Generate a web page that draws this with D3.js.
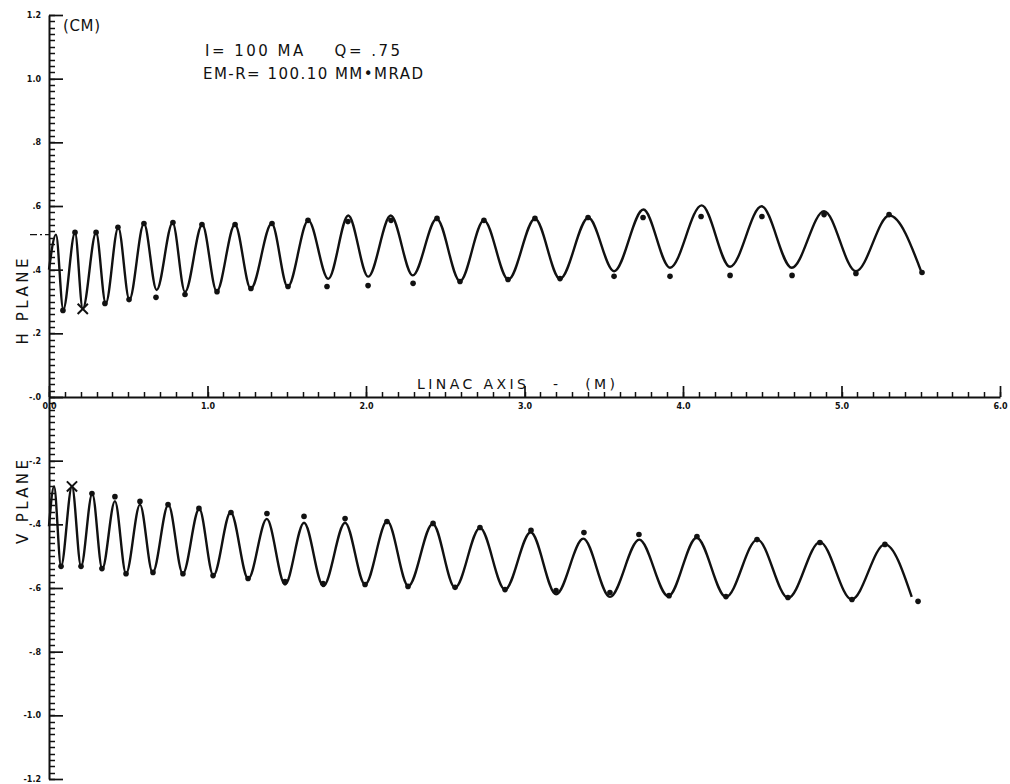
<!DOCTYPE html>
<html>
<head>
<meta charset="utf-8">
<script src="https://cdn.jsdelivr.net/npm/d3@7"></script>
<style>
  body { margin: 0; background: #fff; }
  svg  { display: block; }
  .txt { font-family: "DejaVu Sans", sans-serif; fill: #111; white-space: pre; }
  .tick text { font-family: "DejaVu Sans", sans-serif; font-size: 8px; font-weight: bold; fill: #111; }
</style>
</head>
<body>
<svg id="chart" width="1010" height="784"></svg>
<script>
// ------------------------------------------------------------------
// data (linac axis in m, envelope in cm)
// ------------------------------------------------------------------
const hCurve = [
  [0.00, 0.40], [0.044, 0.51], [0.090, 0.275], [0.164, 0.516], [0.213, 0.277],
  [0.297, 0.516], [0.358, 0.294], [0.437, 0.532], [0.507, 0.306], [0.599, 0.545],
  [0.679, 0.336], [0.780, 0.547], [0.858, 0.330], [0.967, 0.542], [1.058, 0.332],
  [1.173, 0.542], [1.273, 0.340], [1.405, 0.545], [1.506, 0.346], [1.636, 0.555],
  [1.762, 0.371], [1.888, 0.570], [2.014, 0.378], [2.156, 0.570], [2.295, 0.382],
  [2.446, 0.560], [2.593, 0.364], [2.744, 0.555], [2.898, 0.369], [3.066, 0.560],
  [3.224, 0.371], [3.403, 0.563], [3.565, 0.395], [3.750, 0.589], [3.918, 0.406],
  [4.118, 0.602], [4.297, 0.409], [4.496, 0.599], [4.686, 0.406], [4.890, 0.584],
  [5.091, 0.395], [5.302, 0.570], [5.506, 0.390]
];

const hDots = [
  [0.164, 0.517], [0.297, 0.517], [0.435, 0.533], [0.599, 0.545], [0.782, 0.548],
  [0.965, 0.542], [1.174, 0.542], [1.407, 0.545], [1.634, 0.555], [1.886, 0.551],
  [2.158, 0.555], [2.448, 0.561], [2.744, 0.555], [3.066, 0.561], [3.401, 0.564],
  [3.748, 0.564], [4.114, 0.567], [4.498, 0.567], [4.890, 0.573], [5.300, 0.573],
  [0.088, 0.272], [0.353, 0.294], [0.505, 0.306], [0.675, 0.313], [0.858, 0.322],
  [1.060, 0.331], [1.274, 0.341], [1.508, 0.347], [1.754, 0.347], [2.013, 0.350],
  [2.297, 0.357], [2.593, 0.363], [2.896, 0.369], [3.224, 0.372], [3.565, 0.379],
  [3.918, 0.379], [4.297, 0.382], [4.688, 0.382], [5.091, 0.388], [5.508, 0.391]
];

const vCurve = [
  [0.00, -0.406], [0.032, -0.281], [0.076, -0.532], [0.145, -0.281], [0.202, -0.532],
  [0.273, -0.303], [0.336, -0.540], [0.416, -0.327], [0.486, -0.555], [0.574, -0.338],
  [0.654, -0.552], [0.753, -0.338], [0.844, -0.555], [0.948, -0.351], [1.037, -0.561],
  [1.146, -0.362], [1.257, -0.571], [1.374, -0.383], [1.489, -0.589], [1.609, -0.395],
  [1.731, -0.594], [1.868, -0.395], [1.994, -0.589], [2.134, -0.390], [2.267, -0.594],
  [2.421, -0.398], [2.562, -0.599], [2.719, -0.411], [2.877, -0.605], [3.039, -0.425],
  [3.199, -0.620], [3.371, -0.445], [3.539, -0.628], [3.724, -0.448], [3.907, -0.626],
  [4.086, -0.442], [4.271, -0.628], [4.469, -0.448], [4.664, -0.631], [4.864, -0.456],
  [5.064, -0.636], [5.274, -0.463], [5.443, -0.628]
];

const vDots = [
  [0.271, -0.303], [0.416, -0.313], [0.574, -0.328], [0.751, -0.338], [0.946, -0.350],
  [1.148, -0.363], [1.375, -0.366], [1.609, -0.375], [1.868, -0.382], [2.132, -0.391],
  [2.423, -0.397], [2.719, -0.410], [3.041, -0.419], [3.375, -0.426], [3.722, -0.432],
  [4.088, -0.438], [4.467, -0.448], [4.864, -0.457], [5.274, -0.463],
  [0.076, -0.532], [0.202, -0.532], [0.334, -0.539], [0.486, -0.555], [0.656, -0.551],
  [0.845, -0.555], [1.035, -0.561], [1.256, -0.570], [1.489, -0.580], [1.729, -0.586],
  [1.994, -0.589], [2.265, -0.595], [2.562, -0.598], [2.877, -0.605], [3.199, -0.608],
  [3.539, -0.614], [3.912, -0.624], [4.271, -0.627], [4.662, -0.630], [5.066, -0.636],
  [5.483, -0.642]
];

// start points marked with an X
const crossMarks = [[0.213, 0.277], [0.145, -0.281]];

const yTicks      = [-1.2, -1.0, -0.8, -0.6, -0.4, -0.2, 0, 0.2, 0.4, 0.6, 0.8, 1.0, 1.2];
const yTickLabels = ["-1.2", "-1.0", "-.8", "-.6", "-.4", "-.2", "-.0", ".2", ".4", ".6", ".8", "1.0", "1.2"];
const xTicks      = [0, 1, 2, 3, 4, 5, 6];
const xTickLabels = ["0.0", "1.0", "2.0", "3.0", "4.0", "5.0", "6.0"];

// ------------------------------------------------------------------
// 1. scales
// ------------------------------------------------------------------
const svg = d3.select("#chart");
svg.append("rect").attr("width", 1010).attr("height", 784).attr("fill", "#fff");

const x = d3.scaleLinear().domain([0, 6]).range([49, 1000]);
const y = d3.scaleLinear().domain([-1.2, 1.2]).range([779, 15]);

// ------------------------------------------------------------------
// 2. axes (ticks point inward, labels outside)
// ------------------------------------------------------------------
const ink = g => g.selectAll("line, path").attr("stroke", "#111");

// minor ticks: every .02 cm on y, every .1 m on x
const yMinor = d3.range(-60, 61).map(i => i * 0.02);
const xMinor = d3.range(0, 61).map(i => i * 0.1);

svg.append("g")
   .selectAll("line")
   .data(yMinor)
   .join("line")
   .attr("x1", x(0)).attr("x2", x(0) + 6)
   .attr("y1", d => Math.round(y(d)) + 0.5).attr("y2", d => Math.round(y(d)) + 0.5)
   .attr("stroke", "#111").attr("stroke-width", 1.5);

svg.append("g")
   .selectAll("line")
   .data(xMinor)
   .join("line")
   .attr("x1", d => Math.round(x(d)) + 0.5).attr("x2", d => Math.round(x(d)) + 0.5)
   .attr("y1", y(0)).attr("y2", y(0) - 5)
   .attr("stroke", "#111").attr("stroke-width", 1.5);

svg.append("g")
   .attr("transform", `translate(${x(0)},0)`)
   .call(d3.axisLeft(y).tickValues(yTicks).tickSizeInner(-14).tickSizeOuter(0).tickPadding(8)
           .tickFormat((d, i) => yTickLabels[i]))
   .call(ink)
   .call(g => g.selectAll(".tick line").attr("stroke-width", 1.7))
   .call(g => g.select(".domain").attr("stroke-width", 2));

svg.append("g")
   .attr("transform", `translate(0,${y(0)})`)
   .call(d3.axisBottom(x).tickValues(xTicks).tickSizeInner(-11).tickSizeOuter(0).tickPadding(6)
           .tickFormat((d, i) => xTickLabels[i]))
   .call(ink)
   .call(g => g.selectAll(".tick line").attr("stroke-width", 1.7))
   .call(g => g.select(".domain").attr("stroke-width", 2));

// ------------------------------------------------------------------
// 3. envelopes + particle points
// ------------------------------------------------------------------
const line = d3.line()
  .x(d => x(d[0]))
  .y(d => y(d[1]))
  .curve(d3.curveMonotoneX);

[hCurve, vCurve].forEach(c => {
  svg.append("path")
     .datum(c)
     .attr("d", line)
     .attr("fill", "none")
     .attr("stroke", "#111")
     .attr("stroke-width", 2.4)
     .attr("stroke-linejoin", "round");
});

svg.append("g")
   .selectAll("circle")
   .data(hDots.concat(vDots))
   .join("circle")
   .attr("cx", d => x(d[0]))
   .attr("cy", d => y(d[1]))
   .attr("r", 2.8)
   .attr("fill", "#111");

const times = d3.symbol().type(d3.symbolTimes || d3.symbolCross).size(70);
svg.append("g")
   .selectAll("path")
   .data(crossMarks)
   .join("path")
   .attr("transform", d => `translate(${x(d[0])},${y(d[1])})`)
   .attr("d", times)
   .attr("fill", "none")
   .attr("stroke", "#111")
   .attr("stroke-width", 2);

// little dash-dot reference left of the axis
svg.append("line")
   .attr("x1", x(0) - 19).attr("x2", x(0))
   .attr("y1", y(0.51)).attr("y2", y(0.51))
   .attr("stroke", "#111").attr("stroke-width", 1.2)
   .attr("stroke-dasharray", "7,3,2,3");

// ------------------------------------------------------------------
// 4. texts
// ------------------------------------------------------------------
const txt = (s, tx, ty, size, len) =>
  svg.append("text").attr("class", "txt")
     .attr("x", tx).attr("y", ty)
     .attr("font-size", size)
     .attr("textLength", len).attr("lengthAdjust", "spacing")
     .text(s);

txt("(CM)", 63, 31, 15, 37);
txt("I= 100 MA    Q= .75", 205, 56, 15, 195);
txt("EM-R= 100.10 MM\u2022MRAD", 203, 79, 15, 220);
txt("LINAC AXIS   -   (M)", 417, 389, 14, 198);

svg.append("text").attr("class", "txt")
   .attr("transform", `translate(28,${y(0.3)}) rotate(-90)`)
   .attr("text-anchor", "middle")
   .attr("font-size", 15)
   .attr("textLength", 86).attr("lengthAdjust", "spacing")
   .text("H PLANE");

svg.append("text").attr("class", "txt")
   .attr("transform", `translate(28,${y(-0.33)}) rotate(-90)`)
   .attr("text-anchor", "middle")
   .attr("font-size", 15)
   .attr("textLength", 84).attr("lengthAdjust", "spacing")
   .text("V PLANE");
</script>
</body>
</html>
